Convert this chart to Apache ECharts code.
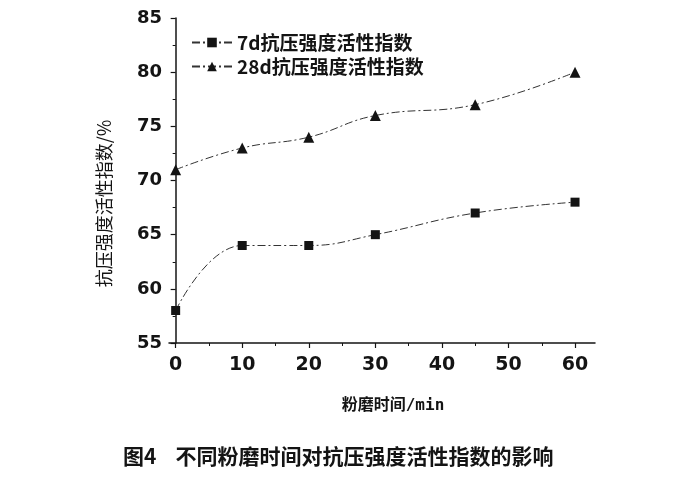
<!DOCTYPE html>
<html><head><meta charset="utf-8">
<script src="https://cdn.jsdelivr.net/npm/echarts@6/dist/echarts.min.js"></script>
<style>html,body{margin:0;padding:0;background:#fff}#c{width:700px;height:486px}</style>
</head><body><div id="c"></div>
<script>
const times = [0, 10, 20, 30, 45, 60];
const act7d = [58, 64, 64, 65, 67, 68];
const act28d = [71, 73, 74, 76, 77, 80];
const seriesNames = ['7d抗压强度活性指数', '28d抗压强度活性指数'];
const xMajorTicks = [0, 10, 20, 30, 40, 50, 60];
const xMinorTicks = [5, 15, 25, 35, 45, 55];
const xName = '粉磨时间/min';
const yName = '抗压强度活性指数/%';
const caption = '图4    不同粉磨时间对抗压强度活性指数的影响';

const ink = '#141414';
const font = '"DejaVu Sans", "Liberation Sans", sans-serif';
const cjk = '"Noto Sans CJK SC", "DejaVu Sans", sans-serif';
const chart = echarts.init(document.getElementById('c'), null, {renderer: 'canvas'});
const dash = [8, 3, 2, 3];
chart.setOption({
  animation: false,
  backgroundColor: '#fff',
  title: {
    text: caption, left: 118, top: 441,
    textStyle: {fontFamily: cjk, fontSize: 21, fontWeight: 'bold', color: ink}
  },
  legend: {
    orient: 'vertical', left: 186, top: 28, itemGap: 5, itemWidth: 40, itemHeight: 12,
    textStyle: {fontFamily: cjk, fontSize: 19, fontWeight: 'bold', color: ink},
    data: seriesNames
  },
  grid: {left: 169, right: 105, top: 18, bottom: 143, containLabel: false},
  xAxis: [{
    type: 'value', min: -1, max: 63,
    name: xName, nameLocation: 'middle', nameGap: 55,
    nameTextStyle: {fontFamily: '"DejaVu Sans Mono", "Noto Sans CJK SC", monospace', fontSize: 16, fontWeight: 'bold', color: ink, padding: [0, 0, 0, 22]},
    axisLine: {lineStyle: {color: ink, width: 1.5}},
    axisTick: {show: true, length: 5, customValues: xMajorTicks, lineStyle: {color: ink, width: 1.2}},
    axisLabel: {customValues: xMajorTicks, margin: 13, fontFamily: font, fontSize: 19, fontWeight: 'bold', color: ink},
    splitLine: {show: false}
  }, {
    type: 'value', min: -1, max: 63, position: 'bottom',
    axisLine: {show: false},
    axisTick: {show: true, length: 3, customValues: xMinorTicks, lineStyle: {color: ink, width: 1}},
    axisLabel: {show: false},
    splitLine: {show: false}
  }],
  yAxis: {
    type: 'value', min: 55, max: 85, interval: 5,
    name: yName, nameLocation: 'middle', nameGap: 56, nameRotate: 90,
    nameTextStyle: {fontFamily: cjk, fontSize: 18, color: ink, padding: [0, 46, 0, 0]},
    axisLine: {show: true, lineStyle: {color: ink, width: 1.5}},
    axisTick: {show: true, length: 5, lineStyle: {color: ink, width: 1.2}},
    minorTick: {show: true, splitNumber: 2, length: 3, lineStyle: {color: ink}},
    axisLabel: {margin: 7, fontFamily: font, fontSize: 18, fontWeight: 'bold', color: ink},
    splitLine: {show: false}
  },
  series: [{
    name: seriesNames[0], type: 'line', smooth: 0.45,
    data: times.map((t, i) => [t, act7d[i]]),
    symbol: 'rect', symbolSize: 9,
    itemStyle: {color: ink},
    lineStyle: {color: '#333', width: 1, type: dash}
  }, {
    name: seriesNames[1], type: 'line', smooth: 0.45,
    data: times.map((t, i) => [t, act28d[i]]),
    symbol: 'triangle', symbolSize: 11,
    itemStyle: {color: ink},
    lineStyle: {color: '#333', width: 1, type: dash}
  }]
});
</script></body></html>
